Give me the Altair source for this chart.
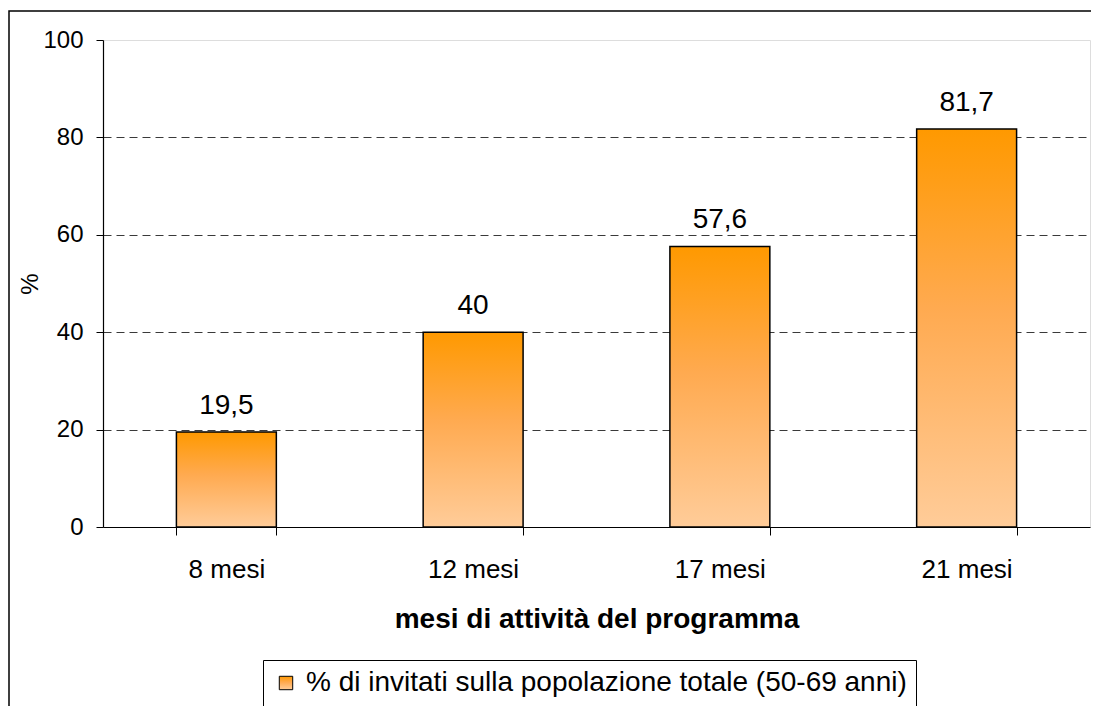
import altair as alt
import pandas as pd

categories = ["8 mesi", "12 mesi", "17 mesi", "21 mesi"]
values = [19.5, 40, 57.6, 81.7]
series_name = "% di invitati sulla popolazione totale (50-69 anni)"
y_ticks = [0, 20, 40, 60, 80, 100]

df = pd.DataFrame({"mesi": categories, "valore": values, "serie": [series_name] * len(categories)})

FONT = "Liberation Sans"

grad = alt.Gradient(
    gradient="linear",
    stops=[
        alt.GradientStop(color="#FF9900", offset=0),
        alt.GradientStop(color="#FFAA50", offset=0.45),
        alt.GradientStop(color="#FFCC99", offset=1),
    ],
    x1=0, x2=0, y1=0, y2=1,
)

x_enc = alt.X(
    "mesi:N", sort=categories,
    scale=alt.Scale(paddingInner=0.595, paddingOuter=0.2975),
    axis=alt.Axis(
        title="mesi di attività del programma", titleFont=FONT, titleFontSize=28,
        titleFontWeight="bold", titleColor="black", titlePadding=23,
        labelFont=FONT, labelFontSize=26, labelColor="black", labelAngle=0, labelPadding=21,
        domainColor="black", domainWidth=1.2, tickColor="black", tickSize=8, tickBand="extent",
        grid=False,
    ),
)
y_enc = alt.Y(
    "valore:Q",
    scale=alt.Scale(domain=[0, 100], nice=False),
    axis=alt.Axis(
        values=y_ticks, title="%", titleFont=FONT, titleFontSize=24, titleFontWeight="normal",
        titleColor="black", titlePadding=0,
        labelFont=FONT, labelFontSize=24, labelColor="black", labelPadding=13,
        domainColor="black", domainWidth=1.2, tickColor="black", tickSize=7,
        grid=True, gridColor="#3a3a3a", gridDash=[8, 5], gridWidth=1,
        gridOpacity={"condition": {"test": "datum.value === 100 || datum.value === 0", "value": 0}, "value": 1},
    ),
)

frame = alt.Chart(pd.DataFrame({"a": [0]})).mark_rect(
    fill=None, stroke="black", strokeWidth=1.5
).encode(
    x=alt.value(-94), x2=alt.value(1010), y=alt.value(-29), y2=alt.value(700)
)

bars = alt.Chart(df).mark_bar(fill=grad, strokeWidth=1.5).encode(
    x=x_enc,
    y=y_enc,
    stroke=alt.Stroke(
        "serie:N",
        scale=alt.Scale(range=["black"]),
        legend=alt.Legend(
            title=None, orient="none", legendX=160, legendY=620,
            labelFont=FONT, labelFontSize=28, labelColor="black", labelLimit=2000,
            symbolType="square", symbolSize=180, symbolFillColor="#FFB366",
            symbolStrokeColor="black", symbolStrokeWidth=1,
            strokeColor="black", fillColor="white", padding=9, labelOffset=6,
        ),
    ),
)

labels = alt.Chart(df).mark_text(
    font=FONT, fontSize=28, color="black", baseline="alphabetic", dy=-18
).transform_calculate(
    lab="replace(toString(datum.valore), '.', ',')"
).encode(
    x=alt.X("mesi:N", sort=categories),
    y=alt.Y("valore:Q"),
    text="lab:N",
)

chart = alt.layer(frame, bars, labels).properties(
    width=987, height=487,
    padding={"left": 95, "top": 32, "right": 1, "bottom": 179},
    autosize=alt.AutoSizeParams(type="none"),
).configure_view(stroke="#808080", strokeWidth=1.5).configure(background="white")

chart.save("out.html", embed_options={"renderer": "svg", "actions": False})
